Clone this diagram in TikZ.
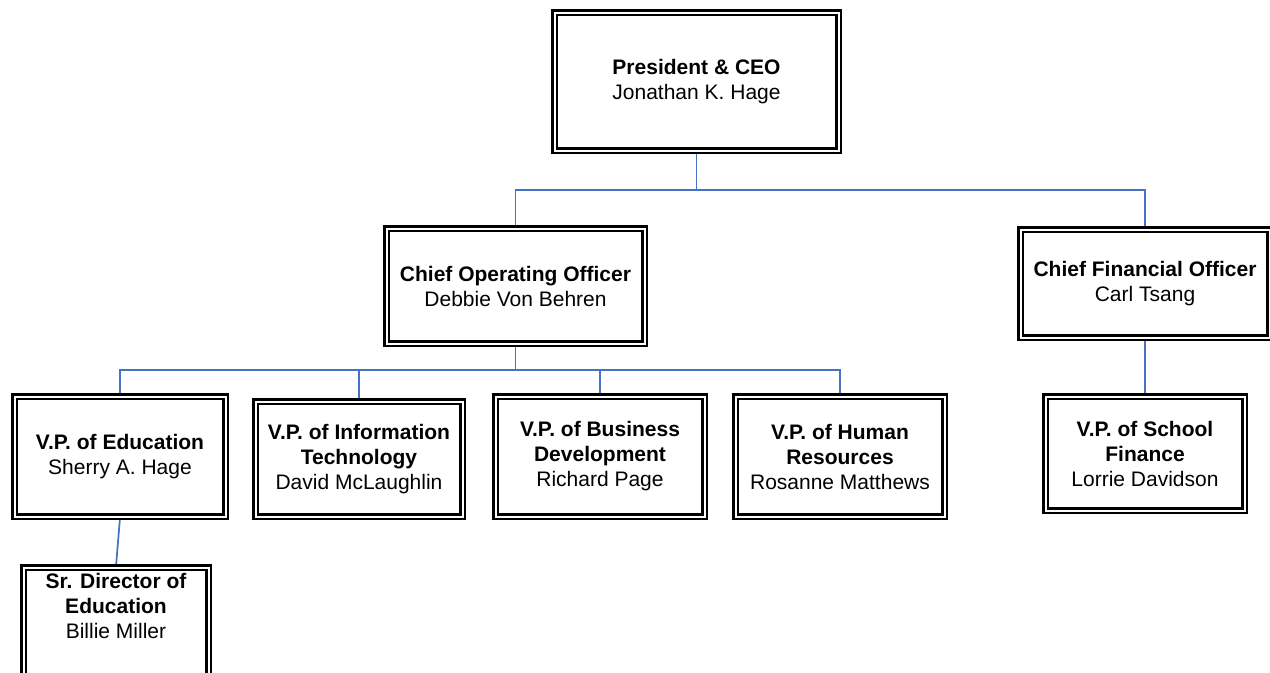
\documentclass[tikz,border=0pt]{standalone}
\usepackage{fontspec}
\setmainfont{Liberation Sans}
\usetikzlibrary{backgrounds}
\definecolor{linkblue}{RGB}{68,114,196}
\begin{document}
\begin{tikzpicture}[x=0.75pt, y=-0.75pt,
        box/.style={draw, double, line width=1.8pt, double distance=1.5pt, fill=white,
            align=center, inner sep=1pt, font=\fontsize{15.75}{18.75}\selectfont},
        link/.style={draw=linkblue, line width=1.3pt}]
    \useasboundingbox (0,0) rectangle (1270,672);
    \clip (0,0) rectangle (1270,672);

    \node[box, minimum width=213pt, minimum height=103.5pt] (ceo) at (696.5,81.5)
        {\textbf{President \& CEO}\\Jonathan K. Hage};
    \node[box, minimum width=193.5pt, minimum height=86.25pt] (coo) at (515.5,286)
        {\textbf{Chief Operating Officer}\\Debbie Von Behren};
    \node[box, minimum width=186.75pt, minimum height=81pt] (cfo) at (1145,283.5)
        {\textbf{Chief Financial Officer}\\Carl Tsang};

    \node[box, minimum width=158.25pt, minimum height=90pt] (vpedu) at (120,456.5)
        {\textbf{V.P. of Education}\\Sherry A. Hage};
    \node[box, minimum width=155.25pt, minimum height=86.25pt] (vpit) at (359,459)
        {\textbf{V.P. of Information}\\\textbf{Technology}\\David McLaughlin};
    \node[box, minimum width=156.75pt, minimum height=90pt] (vpbd) at (600,456.5)
        {\textbf{V.P. of Business}\\\textbf{Development}\\Richard Page};
    \node[box, minimum width=156.75pt, minimum height=90pt] (vphr) at (840,456.5)
        {\textbf{V.P. of Human}\\\textbf{Resources}\\Rosanne Matthews};
    \node[box, minimum width=149.25pt, minimum height=85.5pt] (vpsf) at (1145,453.5)
        {\textbf{V.P. of School}\\\textbf{Finance}\\Lorrie Davidson};

    \node[box, minimum width=138.75pt, minimum height=97.5pt] (srdir) at (116,632.5) {};
    \node[anchor=north, inner sep=0pt, align=center, font=\fontsize{15.75}{18.75}\selectfont]
        (srdirtext) at ([yshift=-5pt]srdir.north)
        {\textbf{Sr. Director of}\\\textbf{Education}\\Billie Miller};

    % connectors
    \coordinate (ceobus) at (696.5,190);
    \coordinate (coobus) at (515.5,370);
    \begin{scope}[on background layer]
        \draw[link] (ceo.south) -- (ceobus) -| (coo.north);
        \draw[link] (ceobus) -| (cfo.north);
        \draw[link] (coo.south) -- (coobus) -| (vpedu.north);
        \draw[link] (coobus) -| (vpit.north);
        \draw[link] (coobus) -| (vpbd.north);
        \draw[link] (coobus) -| (vphr.north);
        \draw[link] (cfo.south) -- (vpsf.north);
        \draw[link] (vpedu.south) -- (srdir.north);
    \end{scope}
\end{tikzpicture}
\end{document}
